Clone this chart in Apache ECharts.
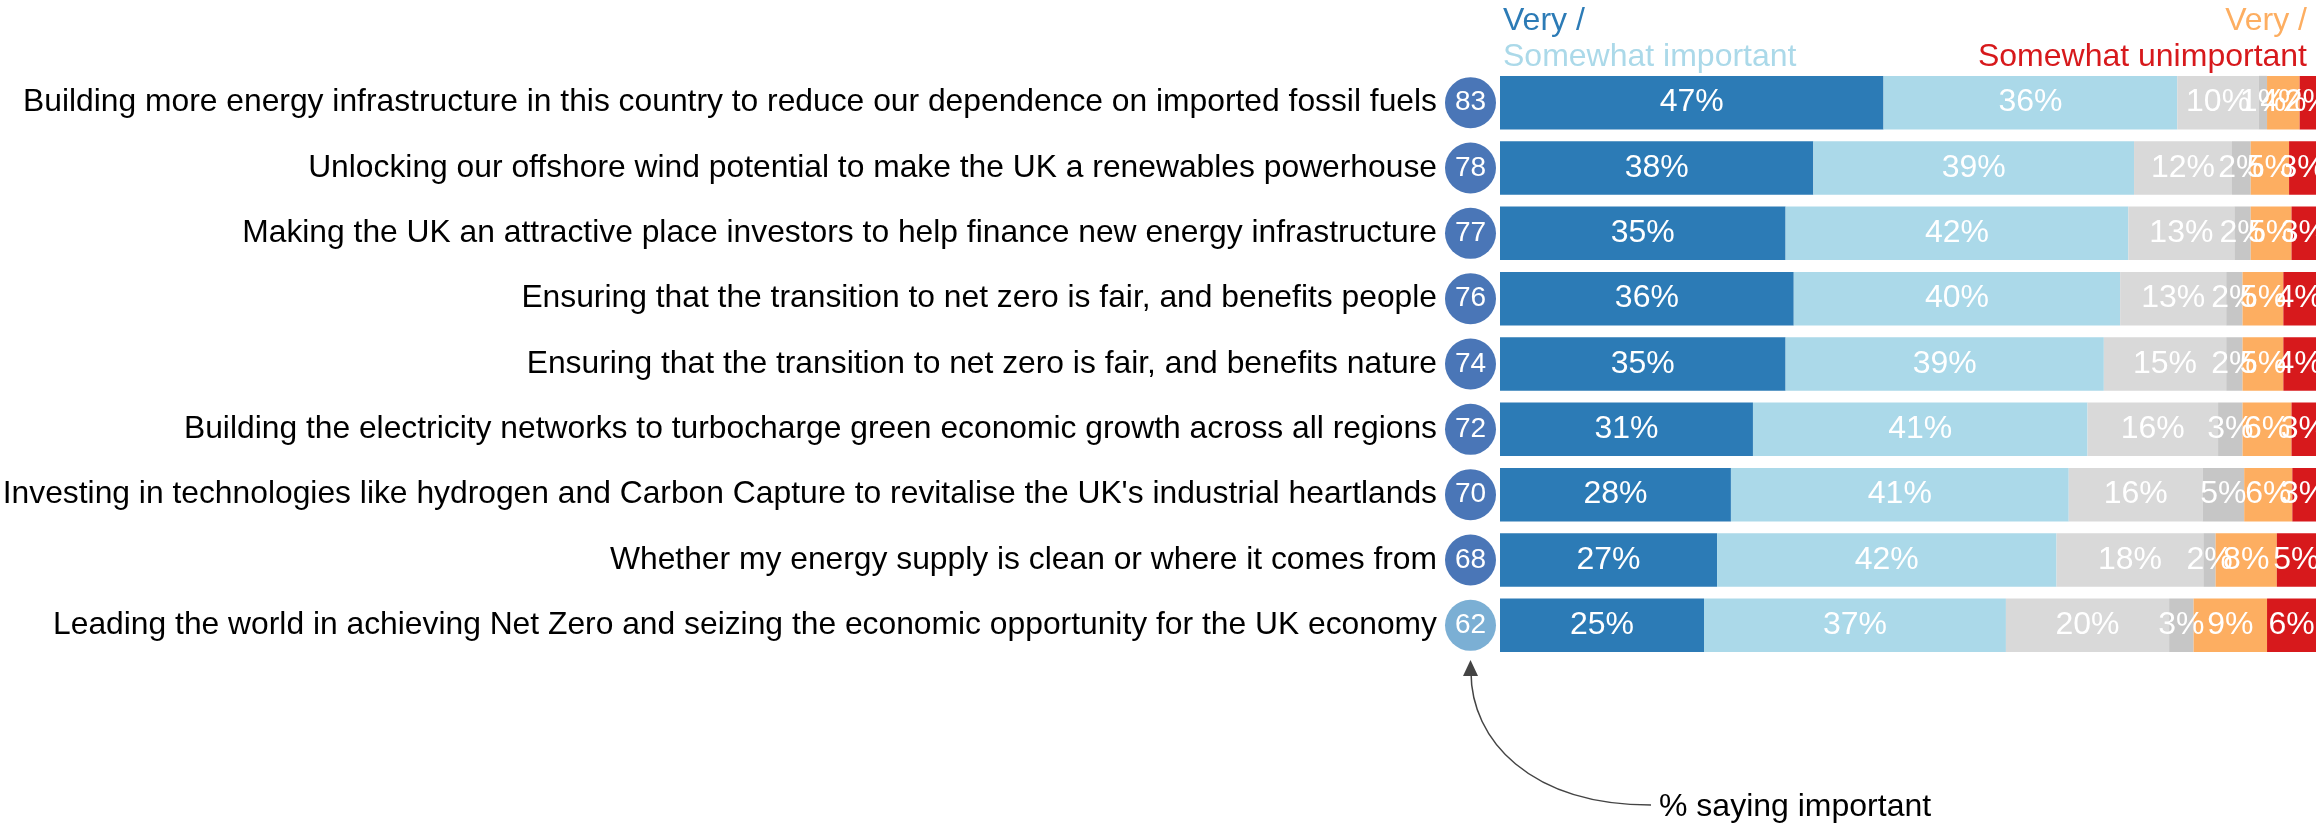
<!DOCTYPE html>
<html>
<head>
<meta charset="utf-8">
<script src="https://cdn.jsdelivr.net/npm/echarts@6/dist/echarts.min.js"></script>
<style>
html,body{margin:0;padding:0;background:#fff;}
#main{width:2316px;height:827px;}
</style>
</head>
<body>
<div id="main"></div>
<script>
// ---------- data ----------
const categories = [
  "Building more energy infrastructure in this country to reduce our dependence on imported fossil fuels",
  "Unlocking our offshore wind potential to make the UK a renewables powerhouse",
  "Making the UK an attractive place investors to help finance new energy infrastructure",
  "Ensuring that the transition to net zero is fair, and benefits people",
  "Ensuring that the transition to net zero is fair, and benefits nature",
  "Building the electricity networks to turbocharge green economic growth across all regions",
  "Investing in technologies like hydrogen and Carbon Capture to revitalise the UK's industrial heartlands",
  "Whether my energy supply is clean or where it comes from",
  "Leading the world in achieving Net Zero and seizing the economic opportunity for the UK economy"
];
const importantScores     = [83, 78, 77, 76, 74, 72, 70, 68, 62];
const veryImportant       = [47, 38.4, 35, 36, 35, 31, 28.3, 26.6, 25];
const somewhatImportant   = [36, 39.3, 42, 40, 39, 41, 41.4, 41.6, 37];
const neitherValues       = [10, 12.0, 13, 13, 15, 16, 16.4, 18.0, 20];
const dontKnowValues      = [1, 2.3, 2, 2, 2, 3, 5.1, 1.5, 3];
const veryUnimportant     = [4, 4.7, 5, 5, 5, 6, 5.9, 7.5, 9];
const somewhatUnimportant = [2, 3.3, 3, 4, 4, 3, 2.9, 4.8, 6];

// ---------- chart ----------
const FONT = "'Liberation Sans', Arial, sans-serif";
const chart = echarts.init(document.getElementById('main'), null, {renderer: 'canvas'});

const gridTop = 70;
const gridBottom = 169;

function barSeries(name, data, color) {
  return {
    name: name,
    type: 'bar',
    stack: 'total',
    data: data,
    barCategoryGap: '18%',
    itemStyle: {color: color},
    label: {
      show: true,
      position: 'inside',
      color: '#fff',
      fontSize: 32,
      fontFamily: FONT,
      formatter: p => Math.round(p.value) + '%'
    },
    emphasis: {disabled: true},
    animation: false
  };
}

const option = {
  backgroundColor: '#fff',
  animation: false,
  grid: [
    {left: 1500, right: 0, top: gridTop, bottom: gridBottom, containLabel: false, outerBoundsMode: 'none'},
    {left: 1445, width: 51, top: gridTop, bottom: gridBottom, containLabel: false, outerBoundsMode: 'none'}
  ],
  xAxis: [
    {type: 'value', min: 0, max: 100, show: false, gridIndex: 0},
    {type: 'value', min: 0, max: 1, show: false, gridIndex: 1}
  ],
  yAxis: [
    {
      type: 'category', data: categories, inverse: true, gridIndex: 0,
      axisLine: {show: false}, axisTick: {show: false}, splitLine: {show: false},
      axisLabel: {fontSize: 31.8, color: '#000', margin: 63, fontFamily: FONT}
    },
    {
      type: 'category', data: categories, inverse: true, gridIndex: 1, show: false
    }
  ],
  series: [
    barSeries('Very important', veryImportant, '#2c7bb6'),
    barSeries('Somewhat important', somewhatImportant, '#abd9e9'),
    barSeries('Neither', neitherValues, '#d9d9d9'),
    barSeries("Don't know", dontKnowValues, '#c6c6c6'),
    barSeries('Very unimportant', veryUnimportant, '#fdae61'),
    barSeries('Somewhat unimportant', somewhatUnimportant, '#d7191c'),
    {
      name: '% saying important',
      type: 'scatter',
      xAxisIndex: 1,
      yAxisIndex: 1,
      symbol: 'circle',
      symbolSize: 51,
      data: importantScores.map((v, i) => ({
        value: [0.5, i],
        itemStyle: {color: v >= 65 ? '#4a76b7' : '#7bafd4', opacity: 1}
      })),
      itemStyle: {opacity: 1},
      label: {
        show: true,
        position: 'inside',
        color: '#fff',
        fontSize: 28,
        fontFamily: FONT,
        formatter: p => String(importantScores[p.dataIndex])
      },
      emphasis: {disabled: true},
      clip: false,
      animation: false
    }
  ],
  graphic: [
    {type: 'text', left: 1503, top: 5, style: {text: 'Very /', fontSize: 32, fontFamily: FONT, fill: '#2c7bb6'}},
    {type: 'text', left: 1503, top: 41, style: {text: 'Somewhat important', fontSize: 32, fontFamily: FONT, fill: '#abd9e9'}},
    {type: 'text', right: 9, top: 5, style: {text: 'Very /', fontSize: 32, fontFamily: FONT, fill: '#fdae61'}},
    {type: 'text', right: 9, top: 41, style: {text: 'Somewhat unimportant', fontSize: 32, fontFamily: FONT, fill: '#d7191c'}},
    {
      type: 'bezierCurve',
      shape: {x1: 1651, y1: 805, cpx1: 1530, cpy1: 805, cpx2: 1471, cpy2: 740, x2: 1471, y2: 672},
      style: {stroke: '#444', lineWidth: 1.5, fill: null}
    },
    {
      type: 'polygon',
      shape: {points: [[1470.5, 660], [1463, 676], [1478, 676]]},
      style: {fill: '#444'}
    },
    {type: 'text', left: 1659, top: 791, style: {text: '% saying important', fontSize: 32, fontFamily: FONT, fill: '#000'}}
  ]
};
chart.setOption(option);
</script>
</body>
</html>
